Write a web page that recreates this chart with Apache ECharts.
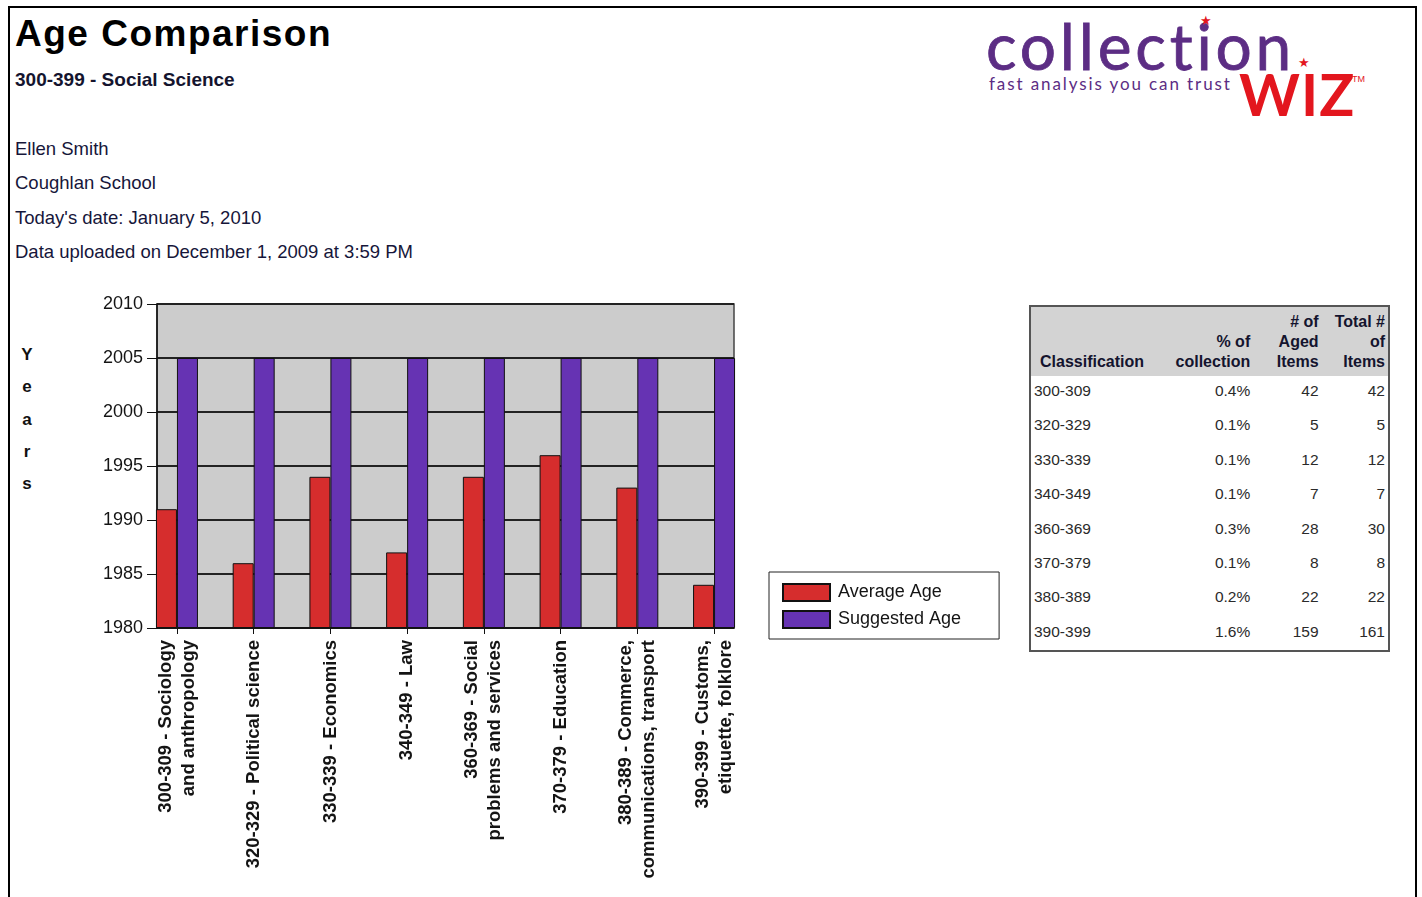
<!DOCTYPE html>
<html>
<head>
<meta charset="utf-8">
<script src="https://cdn.jsdelivr.net/npm/echarts@6/dist/echarts.min.js"></script>
<style>
html,body{margin:0;padding:0;background:#fff;}
#page{position:relative;width:1422px;height:897px;overflow:hidden;font-family:"Liberation Sans",Arial,sans-serif;}
#frame{position:absolute;left:8px;top:6px;width:1405px;height:960px;border:2px solid #000;}
#chart{position:absolute;left:0;top:0;width:1422px;height:897px;}
.t{position:absolute;white-space:nowrap;line-height:1;}
#title{left:15px;top:15px;font-size:37px;font-weight:bold;color:#000;letter-spacing:1.5px;}
#subtitle{left:15px;top:70px;font-size:19px;font-weight:bold;color:#14142e;}
.info{left:15px;font-size:18.5px;color:#16163a;}
#years{position:absolute;left:17px;top:339px;width:20px;text-align:center;font-weight:bold;font-size:17px;line-height:32.3px;color:#111;white-space:pre;}
#logo1{left:986px;top:14px;font-family:Lato,"Open Sans",sans-serif;font-size:64px;color:#5c2d84;-webkit-text-stroke:0.8px #5c2d84;letter-spacing:3.8px;}
#logo2{left:989px;top:75px;font-family:Lato,"Open Sans",sans-serif;font-size:17px;color:#5c2d84;letter-spacing:1.9px;}
#logo3{left:1239px;top:64.5px;font-family:Lato,"Open Sans",sans-serif;font-weight:bold;font-size:58px;color:#e3161e;letter-spacing:1px;}
#tm{left:1352px;top:75px;font-size:9px;color:#e3161e;}
.star{font-family:"DejaVu Sans",sans-serif;font-size:13px;color:#e3161e;}
#tbl{position:absolute;left:1029px;top:305px;border:2px solid #555;border-collapse:collapse;table-layout:fixed;width:361px;font-family:"Liberation Sans",Arial,sans-serif;}
#tbl th{background:#d3d3d3;font-size:16px;font-weight:bold;line-height:20px;height:70px;vertical-align:bottom;padding:0 3px 4px 0;text-align:right;color:#14142e;white-space:pre;box-sizing:border-box;}
#tbl th.c1{text-align:left;padding-left:9px;}
#tbl td{font-size:15.5px;line-height:20px;height:34.4px;vertical-align:top;padding:5px 3px 0 0;text-align:right;color:#2a2a2a;box-sizing:border-box;}
#tbl td.c1{text-align:left;padding-left:3px;}
</style>
</head>
<body>
<div id="page">
  <div id="frame"></div>
  <div class="t" id="title"></div>
  <div class="t" id="subtitle"></div>
  <div id="infoBox"></div>
  <div id="years"></div>
  <div class="t" id="logo1">collection</div>
  <div class="t" id="logo2">fast analysis you can trust</div>
  <div class="t" id="logo3">WIZ</div>
  <div class="t" id="tm">TM</div>
  <div class="t star" style="left:1200px;top:14px;">★</div>
  <div class="t star" style="left:1298px;top:56px;">★</div>
  <table id="tbl"></table>
  <div id="chart"></div>
</div>
<script>
// ---- text content ----
const pageTitle = 'Age Comparison';
const pageSubtitle = '300-399 - Social Science';
const infoLines = ['Ellen Smith', 'Coughlan School', "Today's date: January 5, 2010", 'Data uploaded on December 1, 2009 at 3:59 PM'];
const yAxisName = 'Years';

// ---- chart data ----
const categories = [
  '300-309 - Sociology\nand anthropology',
  '320-329 - Political science',
  '330-339 - Economics',
  '340-349 - Law',
  '360-369 - Social\nproblems and services',
  '370-379 - Education',
  '380-389 - Commerce,\ncommunications, transport',
  '390-399 - Customs,\netiquette, folklore'
];
const averageAge = [1991, 1986, 1994, 1987, 1994, 1996, 1993, 1984];
const suggestedAge = [2005, 2005, 2005, 2005, 2005, 2005, 2005, 2005];
const seriesNames = ['Average Age', 'Suggested Age'];
const yMin = 1980, yMax = 2010, yStep = 5;

// ---- table data ----
const tableHeaders = ['Classification', '% of\ncollection', '# of\nAged\nItems', 'Total #\nof\nItems'];
const tableClass = ['300-309', '320-329', '330-339', '340-349', '360-369', '370-379', '380-389', '390-399'];
const tablePct = ['0.4%', '0.1%', '0.1%', '0.1%', '0.3%', '0.1%', '0.2%', '1.6%'];
const tableAged = [42, 5, 12, 7, 28, 8, 22, 159];
const tableTotal = [42, 5, 12, 7, 30, 8, 22, 161];

// ---- build html text ----
document.getElementById('title').textContent = pageTitle;
document.getElementById('subtitle').textContent = pageSubtitle;
const infoTops = [139.5, 174.3, 208.6, 243.3];
const infoBox = document.getElementById('infoBox');
infoLines.forEach((s, i) => {
  const d = document.createElement('div');
  d.className = 't info';
  d.style.top = infoTops[i] + 'px';
  d.textContent = s;
  infoBox.appendChild(d);
});
document.getElementById('years').textContent = yAxisName.split('').join('\n');

const tbl = document.getElementById('tbl');
const colW = [130, 92, 68, 67];
let html = '<colgroup>' + colW.map(w => '<col style="width:' + w + 'px">').join('') + '</colgroup>';
html += '<tr>' + tableHeaders.map((h, i) => '<th class="c' + (i + 1) + '">' + h + '</th>').join('') + '</tr>';
tableClass.forEach((c, i) => {
  html += '<tr><td class="c1">' + c + '</td><td>' + tablePct[i] + '</td><td>' + tableAged[i] + '</td><td>' + tableTotal[i] + '</td></tr>';
});
tbl.innerHTML = html;

// ---- chart ----
const chart = echarts.init(document.getElementById('chart'), null, {renderer: 'canvas'});
const barBorder = {borderColor: '#111', borderWidth: 1};
const option = {
  animation: false,
  backgroundColor: 'transparent',
  grid: [
    {left: 157, top: 304, width: 577, height: 324, show: true, backgroundColor: '#cccccc', borderColor: '#444', borderWidth: 1.5, containLabel: false},
    {left: 177, top: 304, width: 537, height: 324, show: false, containLabel: false}
  ],
  xAxis: [
    {gridIndex: 0, type: 'value', min: -0.26, max: 7.26,
     axisLine: {show: true, onZero: false, lineStyle: {color: '#111', width: 1.5}},
     axisTick: {show: false}, axisLabel: {show: false}, splitLine: {show: false}},
    {gridIndex: 1, type: 'category', boundaryGap: false, data: categories, position: 'bottom',
     axisLine: {show: false, onZero: false},
     axisTick: {show: true, length: 6, lineStyle: {color: '#111', width: 1}},
     axisLabel: {interval: 0, rotate: 90, margin: 12, fontFamily: 'Liberation Sans', fontWeight: 'bold',
                 fontSize: 18.5, lineHeight: 23, color: '#141414', showMinLabel: true, showMaxLabel: true, hideOverlap: false},
     splitLine: {show: false}}
  ],
  yAxis: [
    {gridIndex: 0, type: 'value', min: yMin, max: yMax, interval: yStep, startValue: yMin,
     axisLine: {show: true, onZero: false, lineStyle: {color: '#111', width: 1.5}},
     axisTick: {show: true, length: 10, lineStyle: {color: '#111', width: 1}},
     axisLabel: {margin: 14, fontFamily: 'Liberation Sans', fontSize: 18, color: '#141414', formatter: v => String(v)},
     splitLine: {show: true, lineStyle: {color: '#222', width: 2}}},
    {gridIndex: 1, type: 'value', min: yMin, max: yMax, interval: yStep, show: false,
     axisLine: {show: false, onZero: false}}
  ],
  legend: {
    show: true, orient: 'vertical', left: 769, top: 572,
    data: seriesNames, icon: 'rect', itemWidth: 47, itemHeight: 17, itemGap: 8,
    padding: [11, 38, 10, 13], borderColor: '#222', borderWidth: 1, backgroundColor: '#fff',
    textStyle: {fontFamily: 'Liberation Sans', fontSize: 18, color: '#141414', padding: [0, 0, 0, 3]},
    selectedMode: false
  },
  series: [
    {name: seriesNames[0], type: 'bar', xAxisIndex: 0, yAxisIndex: 0, barWidth: 21, barGap: '0%', clip: true,
     itemStyle: Object.assign({color: '#d62d2d'}, barBorder),
     data: averageAge.map((v, i) => [i, v])},
    {name: seriesNames[1], type: 'bar', xAxisIndex: 0, yAxisIndex: 0, barWidth: 21, barGap: '0%', clip: true,
     itemStyle: Object.assign({color: '#6633b3'}, barBorder),
     data: suggestedAge.map((v, i) => [i, v])}
  ]
};
chart.setOption(option);
</script>
</body>
</html>
